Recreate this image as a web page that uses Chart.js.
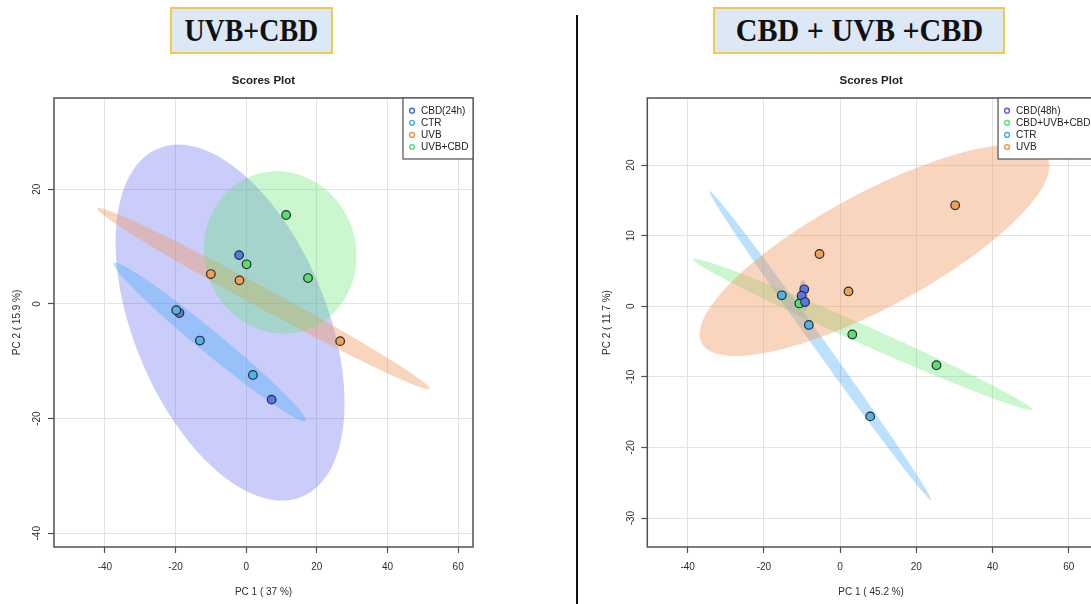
<!DOCTYPE html>
<html>
<head>
<meta charset="utf-8">
<script src="https://cdn.jsdelivr.net/npm/chart.js@4.4.0/dist/chart.umd.min.js"></script>
<style>
html,body{margin:0;padding:0;width:1091px;height:604px;overflow:hidden;background:#fff;}
.tbox{position:absolute;background:#dce8f6;border:2px solid #f3c84e;box-sizing:border-box;display:flex;align-items:center;justify-content:center;font-family:"Liberation Serif","Times New Roman",serif;font-weight:bold;font-size:31px;color:#111;}
.tbox span{display:inline-block;white-space:nowrap;}
#divider{position:absolute;left:576px;top:15px;width:2px;height:589px;background:#111;}
canvas{position:absolute;}
</style>
</head>
<body>
<div class="tbox" style="left:170px;top:7px;width:163px;height:47px"><span style="transform:scaleX(.9)">UVB+CBD</span></div>
<div class="tbox" style="left:713px;top:7px;width:292px;height:47px"><span style="transform:scaleX(.97)">CBD + UVB +CBD</span></div>
<div id="divider"></div>
<canvas id="leftChart" width="577" height="544" style="left:0;top:60px;width:577px;height:544px"></canvas>
<canvas id="rightChart" width="530" height="544" style="left:578px;top:60px;width:530px;height:544px"></canvas>
<script>
// ---------- Left panel (UVB+CBD) ----------
const leftGroupNames = ['CBD(24h)', 'CTR', 'UVB', 'UVB+CBD'];
const leftCbd24hX = [-2.0, -18.9, 7.2];
const leftCbd24hY = [8.5, -1.6, -16.7];
const leftCtrX = [-19.8, -13.1, 1.9];
const leftCtrY = [-1.1, -6.4, -12.4];
const leftUvbX = [-10.0, -1.9, 26.6];
const leftUvbY = [5.2, 4.1, -6.5];
const leftUvbCbdX = [11.3, 0.1, 17.5];
const leftUvbCbdY = [15.5, 6.9, 4.5];
const leftXTicks = [-40, -20, 0, 20, 40, 60];
const leftYTicks = [-40, -20, 0, 20];
const leftXTitle = 'PC 1 ( 37 %)';
const leftYTitle = 'PC 2 ( 15.9 %)';

// ---------- Right panel (CBD + UVB +CBD) ----------
const rightGroupNames = ['CBD(48h)', 'CBD+UVB+CBD', 'CTR', 'UVB'];
const rightCbd48hX = [-9.4, -10.1, -9.2];
const rightCbd48hY = [2.4, 1.5, 0.6];
const rightCbdUvbCbdX = [-10.7, 3.2, 25.3];
const rightCbdUvbCbdY = [0.4, -4.0, -8.35];
const rightCtrX = [-15.3, -8.2, 7.9];
const rightCtrY = [1.55, -2.65, -15.6];
const rightUvbX = [-5.4, 2.2, 30.2];
const rightUvbY = [7.4, 2.1, 14.3];
const rightXTicks = [-40, -20, 0, 20, 40, 60];
const rightYTicks = [-30, -20, -10, 0, 10, 20];
const rightXTitle = 'PC 1 ( 45.2 %)';
const rightYTitle = 'PC 2 ( 11.7 %)';

const plotTitle = 'Scores Plot';

// styles
const STY = {
  cbd: {pt: '#5b76ea', leg: '#4f5fe6', fill: 'rgba(90,100,240,0.32)'},
  ctr: {pt: '#4bb5ec', leg: '#3fb0f0', fill: 'rgba(60,170,245,0.35)'},
  uvb: {pt: '#f0a055', leg: '#f09050', fill: 'rgba(240,150,90,0.40)'},
  grn: {pt: '#55df70', leg: '#4fe070', fill: 'rgba(80,230,100,0.30)'}
};
const FONT = '"Liberation Sans", Arial, sans-serif';

function ellipsePath(ctx, xs, ys, sx, sy) {
  const n = xs.length;
  const mx = xs.reduce((a, b) => a + b, 0) / n;
  const my = ys.reduce((a, b) => a + b, 0) / n;
  let sxx = 0, syy = 0, sxy = 0;
  for (let i = 0; i < n; i++) {
    const dx = xs[i] - mx, dy = ys[i] - my;
    sxx += dx * dx; syy += dy * dy; sxy += dx * dy;
  }
  sxx /= (n - 1); syy /= (n - 1); sxy /= (n - 1);
  const tr = sxx + syy, det = sxx * syy - sxy * sxy;
  const disc = Math.sqrt(Math.max(tr * tr / 4 - det, 0));
  const l1 = tr / 2 + disc, l2 = Math.max(tr / 2 - disc, 0);
  let vx, vy;
  if (Math.abs(sxy) > 1e-12) { vx = l1 - syy; vy = sxy; }
  else if (sxx >= syy) { vx = 1; vy = 0; } else { vx = 0; vy = 1; }
  const nn = Math.hypot(vx, vy); vx /= nn; vy /= nn;
  const ux = -vy, uy = vx;
  const k = Math.sqrt(5.991); // 95% confidence region, 2 d.f.
  const a = k * Math.sqrt(l1), b = k * Math.sqrt(l2);
  ctx.beginPath();
  const N = 160;
  for (let i = 0; i <= N; i++) {
    const t = i / N * 2 * Math.PI;
    const c = a * Math.cos(t), s = b * Math.sin(t);
    const px = sx.getPixelForValue(mx + c * vx + s * ux);
    const py = sy.getPixelForValue(my + c * vy + s * uy);
    if (i === 0) ctx.moveTo(px, py); else ctx.lineTo(px, py);
  }
  ctx.closePath();
}

function makePanel(canvasId, p) {
  const datasets = p.pointOrder.map(i => {
    const g = p.groups[i];
    return {
      label: g.name,
      data: g.xs.map((x, k) => ({x: x, y: g.ys[k]})),
      backgroundColor: g.sty.pt,
      borderColor: '#2b2b2b',
      borderWidth: 1.2,
      pointRadius: 4.3,
      pointHoverRadius: 4.3
    };
  });

  const panelPlugin = {
    id: 'panel_' + canvasId,
    beforeDatasetsDraw(chart) {
      const ctx = chart.ctx, ca = chart.chartArea;
      const sx = chart.scales.x, sy = chart.scales.y;
      ctx.save();
      ctx.beginPath(); ctx.rect(ca.left, ca.top, ca.right - ca.left, ca.bottom - ca.top); ctx.clip();
      p.groups.forEach(g => {
        ellipsePath(ctx, g.xs, g.ys, sx, sy);
        ctx.fillStyle = g.sty.fill;
        ctx.fill();
      });
      ctx.restore();
    },
    afterDatasetsDraw(chart) {
      const ctx = chart.ctx, ca = chart.chartArea;
      const sx = chart.scales.x, sy = chart.scales.y;
      ctx.save();
      // frame
      ctx.strokeStyle = '#505050'; ctx.lineWidth = 1.5;
      ctx.strokeRect(ca.left, ca.top, ca.right - ca.left, ca.bottom - ca.top);
      // tick labels
      ctx.fillStyle = '#2e2e2e';
      ctx.font = '10px ' + FONT;
      ctx.textAlign = 'center'; ctx.textBaseline = 'middle';
      sx.ticks.forEach(t => {
        ctx.fillText(String(t.value), sx.getPixelForValue(t.value), ca.bottom + 20);
      });
      sy.ticks.forEach(t => {
        ctx.save();
        ctx.translate(ca.left - 16.5, sy.getPixelForValue(t.value));
        ctx.rotate(-Math.PI / 2);
        ctx.fillText(String(t.value), 0, 0);
        ctx.restore();
      });
      // axis titles
      const cx = (ca.left + ca.right) / 2, cy = (ca.top + ca.bottom) / 2;
      ctx.fillText(p.xTitle, cx, ca.bottom + 45);
      ctx.save();
      ctx.translate(ca.left - p.yTitleOff, cy);
      ctx.rotate(-Math.PI / 2);
      ctx.fillText(p.yTitle, 0, 0);
      ctx.restore();
      // plot title
      ctx.fillStyle = '#222';
      ctx.font = 'bold 11.5px ' + FONT;
      ctx.fillText(plotTitle, cx, 20.5);
      // legend
      ctx.font = '10px ' + FONT;
      let maxW = 0;
      p.groups.forEach(g => { maxW = Math.max(maxW, ctx.measureText(g.name).width); });
      const bw = 18 + maxW + 4.5, bh = 61;
      const bx = ca.right - bw, by = ca.top;
      ctx.fillStyle = '#fff';
      ctx.fillRect(bx, by, bw, bh);
      ctx.strokeStyle = '#505050'; ctx.lineWidth = 1.2;
      ctx.strokeRect(bx, by, bw, bh);
      ctx.textAlign = 'left';
      p.groups.forEach((g, i) => {
        const yy = by + 12.7 + i * 12.1;
        ctx.beginPath();
        ctx.arc(bx + 9, yy, 2.4, 0, 2 * Math.PI);
        ctx.strokeStyle = g.sty.leg; ctx.lineWidth = 1.4; ctx.stroke();
        ctx.fillStyle = '#222';
        ctx.fillText(g.name, bx + 18, yy + 0.5);
      });
      ctx.restore();
    }
  };

  const axis = (min, max, ticks, fit) => ({
    type: 'linear', min: min, max: max,
    afterBuildTicks: s => { s.ticks = ticks.map(v => ({value: v})); },
    afterFit: fit,
    ticks: {display: false},
    grid: {color: '#e2e2e2', lineWidth: 1, drawTicks: true, tickLength: 6, tickColor: '#505050', tickWidth: 1.2},
    border: {display: false}
  });

  return new Chart(document.getElementById(canvasId), {
    type: 'scatter',
    data: {datasets: datasets},
    options: {
      responsive: false, animation: false, events: [],
      layout: {padding: {top: 38, right: p.padRight, left: 0, bottom: 0}},
      plugins: {legend: {display: false}, title: {display: false}, tooltip: {enabled: false}},
      scales: {
        x: axis(p.xMin, p.xMax, p.xTicks, s => { s.height = 57; }),
        y: axis(p.yMin, p.yMax, p.yTicks, s => { s.width = p.yAxisW; })
      }
    },
    plugins: [panelPlugin]
  });
}

makePanel('leftChart', {
  groups: [
    {name: leftGroupNames[0], xs: leftCbd24hX, ys: leftCbd24hY, sty: STY.cbd},
    {name: leftGroupNames[1], xs: leftCtrX, ys: leftCtrY, sty: STY.ctr},
    {name: leftGroupNames[2], xs: leftUvbX, ys: leftUvbY, sty: STY.uvb},
    {name: leftGroupNames[3], xs: leftUvbCbdX, ys: leftUvbCbdY, sty: STY.grn}
  ],
  pointOrder: [1, 0, 2, 3],
  xMin: -54.4, xMax: 64.2, yMin: -42.4, yMax: 35.9,
  xTicks: leftXTicks, yTicks: leftYTicks,
  xTitle: leftXTitle, yTitle: leftYTitle,
  yAxisW: 54, padRight: 104, yTitleOff: 37
});

makePanel('rightChart', {
  groups: [
    {name: rightGroupNames[0], xs: rightCbd48hX, ys: rightCbd48hY, sty: STY.cbd},
    {name: rightGroupNames[1], xs: rightCbdUvbCbdX, ys: rightCbdUvbCbdY, sty: STY.grn},
    {name: rightGroupNames[2], xs: rightCtrX, ys: rightCtrY, sty: STY.ctr},
    {name: rightGroupNames[3], xs: rightUvbX, ys: rightUvbY, sty: STY.uvb}
  ],
  pointOrder: [0, 1, 2, 3],
  xMin: -50.6, xMax: 66.9, yMin: -34.1, yMax: 29.5,
  xTicks: rightXTicks, yTicks: rightYTicks,
  xTitle: rightXTitle, yTitle: rightYTitle,
  yAxisW: 69.3, padRight: 13, yTitleOff: 40
});
</script>
</body>
</html>
